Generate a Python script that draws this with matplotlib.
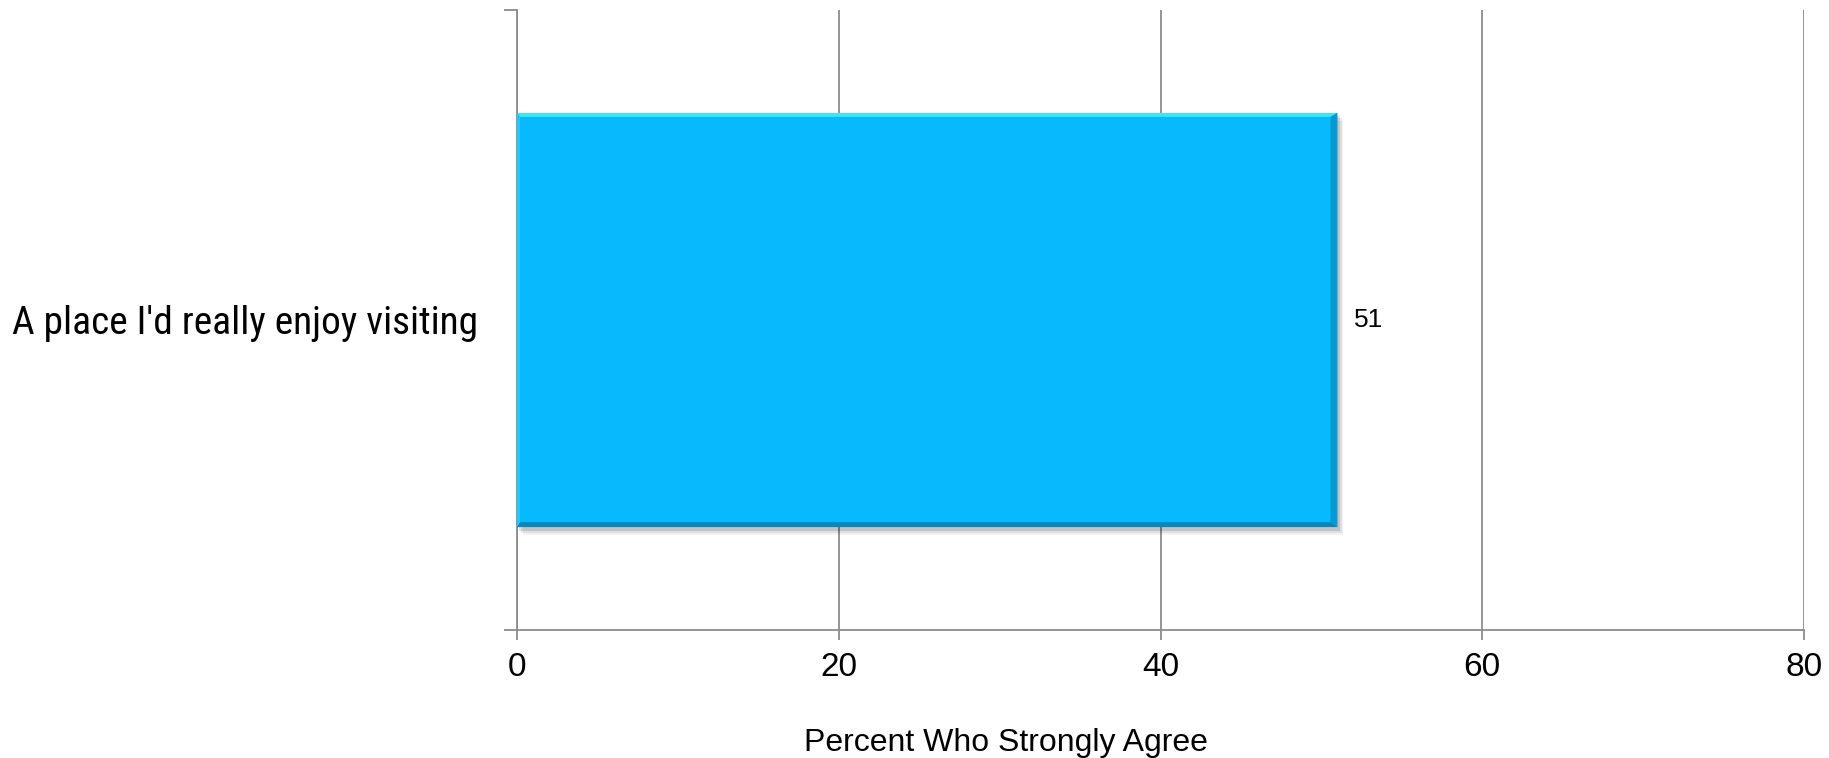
import matplotlib
matplotlib.use("Agg")
import matplotlib.pyplot as plt
import matplotlib.patheffects as pe
from matplotlib.patches import Polygon
from matplotlib import font_manager
from matplotlib.textpath import TextPath
from matplotlib.font_manager import FontProperties

categories = ["A place I'd really enjoy visiting"]
values = [51]
xticks = [0, 20, 40, 60, 80]
xlabel = "Percent Who Strongly Agree"

plt.rcParams['font.family'] = ['Liberation Sans', 'DejaVu Sans']

# choose the narrowest available sans font for the category label
cands = []
for f in font_manager.fontManager.ttflist:
    if f.style != 'normal' or f.weight not in (400, 'normal', 'regular'):
        continue
    if f.name in ('Liberation Sans Narrow', 'Liberation Sans', 'Roboto', 'Roboto Condensed',
                  'DejaVu Sans', 'Open Sans', 'Lato', 'Inter', 'Noto Sans'):
        cands.append((f.name, f.stretch))
cands = list(dict.fromkeys(cands)) or [('Liberation Sans', 'normal')]

TARGET_W = 463.0  # px width of label in reference
BASE = 30.0
best = None
for name, stretch in cands:
    try:
        fp = FontProperties(family=name, stretch=stretch, size=BASE)
        tp = TextPath((0, 0), categories[0], prop=fp)
        w = tp.get_extents().width * 100 / 72.0
    except Exception:
        continue
    score = abs(w - TARGET_W)
    if best is None or score < best[0]:
        best = (score, name, stretch, w)
_, lab_family, lab_stretch, lab_w = best
lab_size = BASE * TARGET_W / lab_w
lab_size = min(lab_size, 32)

W, H = 1829, 758
fig = plt.figure(figsize=(W / 100, H / 100), dpi=100)
ax = fig.add_axes([517 / W, 1 - 630 / H, (1804 - 517) / W, (630 - 10) / H])

grid_c = '#8c8c8c'
bar_h = 0.668
bars = ax.barh(range(len(categories)), values, height=bar_h, color='#07BAFE',
               edgecolor='none', zorder=3)

for b in bars:
    b.set_path_effects([
        pe.SimplePatchShadow(offset=(4, -6), shadow_rgbFace='#000000', alpha=0.05),
        pe.SimplePatchShadow(offset=(3, -4), shadow_rgbFace='#000000', alpha=0.08),
        pe.SimplePatchShadow(offset=(1.5, -2.5), shadow_rgbFace='#000000', alpha=0.12),
        pe.Normal()])

xpx = (1804 - 517) / 80.0
ypx = 620 / 1.0
for b in bars:
    x0, w = b.get_x(), b.get_width()
    y0, h = b.get_y(), b.get_height()
    x1, y1 = x0 + w, y0 + h
    dt = 4 / ypx
    db = 5 / ypx
    dr = 7 / xpx
    dl = 3 / xpx
    ax.add_patch(Polygon([(x0, y1), (x1, y1), (x1 - dr, y1 - dt), (x0 + dl, y1 - dt)],
                         closed=True, facecolor='#3FE3FF', edgecolor='none', zorder=4))
    ax.add_patch(Polygon([(x0, y0), (x1, y0), (x1 - dr, y0 + db), (x0 + dl, y0 + db)],
                         closed=True, facecolor='#0C86B8', edgecolor='none', zorder=4))
    ax.add_patch(Polygon([(x1, y0), (x1, y1), (x1 - dr, y1 - dt), (x1 - dr, y0 + db)],
                         closed=True, facecolor='#0999D2', edgecolor='none', zorder=4))
    ax.add_patch(Polygon([(x0, y0), (x0, y1), (x0 + dl, y1 - dt), (x0 + dl, y0 + db)],
                         closed=True, facecolor='#1FC8FF', edgecolor='none', zorder=4))

for i, v in enumerate(values):
    ax.annotate(str(v), xy=(v, i), xytext=(12, 0), textcoords='offset points',
                ha='left', va='center', fontsize=19, color='black')

ax.set_xlim(0, 80)
ax.set_ylim(-0.5, len(categories) - 0.5)
ax.set_xticks(xticks)
ax.set_xticklabels([str(t) for t in xticks], fontsize=24)
ax.tick_params(axis='x', length=7.5, width=1.3, color=grid_c, pad=8, direction='out')

ax.set_yticks(range(len(categories)))
ax.set_yticklabels(categories, fontsize=lab_size, family=[lab_family, 'DejaVu Sans'],
                   fontstretch=lab_stretch)
ax.tick_params(axis='y', which='major', length=0, pad=28)
ax.set_yticks([-0.5, len(categories) - 0.5], minor=True)
ax.tick_params(axis='y', which='minor', length=9.5, width=1.3, color=grid_c, direction='out')

ax.grid(axis='x', color=grid_c, linewidth=1.3, zorder=0)
ax.set_axisbelow(True)
for s in ['top', 'right']:
    ax.spines[s].set_visible(False)
for s in ['left', 'bottom']:
    ax.spines[s].set_color(grid_c)
    ax.spines[s].set_linewidth(1.3)

ax.set_xlabel(xlabel, fontsize=23)
ax.xaxis.label.set_va('baseline')
ax.xaxis.set_label_coords((1006 - 517) / (1804 - 517), (630 - 751) / 620)

fig.savefig('out.png', dpi=100, facecolor='white')
